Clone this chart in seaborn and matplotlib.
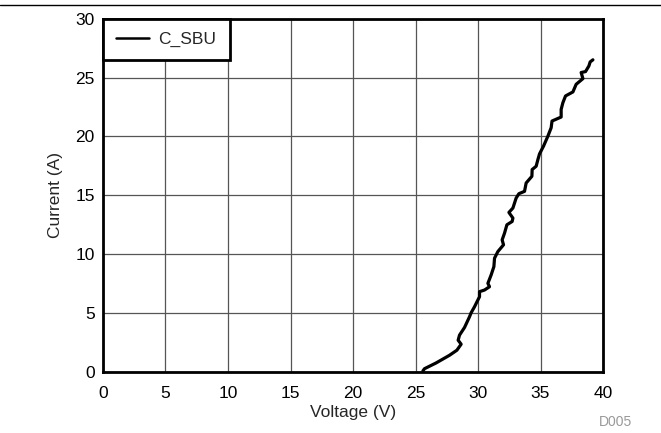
import pandas as pd
import matplotlib
matplotlib.use('Agg')
import matplotlib.pyplot as plt
import seaborn as sns

# curve (V, A)
voltage = [25.59, 25.72, 26.65, 27.72, 28.31, 28.65, 28.41, 28.52, 28.92, 29.32,
           29.45, 29.72, 29.85, 30.12, 30.12, 30.52, 30.92, 30.79, 31.05, 31.27,
           31.32, 31.59, 32.04, 31.93, 32.12, 32.31, 32.73, 32.79, 32.47, 32.79,
           33.05, 33.27, 33.72, 33.85, 34.31, 34.33, 34.65, 34.79, 34.92, 35.24,
           35.59, 35.85, 35.92, 36.65, 36.65, 36.79, 37.00, 37.59, 37.85, 38.39,
           38.25, 38.60, 38.87, 38.97, 39.19]
current = [0.09, 0.28, 0.77, 1.42, 1.85, 2.36, 2.70, 3.13, 3.78, 4.69,
           5.03, 5.54, 5.82, 6.39, 6.82, 6.96, 7.24, 7.53, 8.24, 8.95,
           9.66, 10.23, 10.80, 11.22, 11.79, 12.50, 12.78, 13.07, 13.55, 13.92,
           14.77, 15.14, 15.34, 16.05, 16.62, 17.19, 17.47, 18.04, 18.52, 19.18,
           20.03, 20.74, 21.31, 21.65, 22.30, 22.87, 23.44, 23.78, 24.43, 24.91,
           25.43, 25.51, 25.99, 26.33, 26.51]
x_ticks = [0, 5, 10, 15, 20, 25, 30, 35, 40]
y_ticks = [0, 5, 10, 15, 20, 25, 30]

df = pd.DataFrame({'Voltage': voltage, 'Current': current, 'series': 'C_SBU'})

sns.set_style('white')
plt.rcParams['font.family'] = ['Liberation Sans', 'DejaVu Sans']

fig = plt.figure(figsize=(6.61, 4.33), dpi=100)
ax = fig.add_axes([0.1558, 0.1409, 0.7565, 0.8159])

sns.lineplot(data=df, x='Voltage', y='Current', hue='series', palette=['black'],
             sort=False, estimator=None, linewidth=2.3, ax=ax)

ax.set_xlim(0, 40)
ax.set_ylim(0, 30)
ax.set_xticks(x_ticks)
ax.set_yticks(y_ticks)
ax.grid(True, color='#555555', linewidth=0.9)
ax.tick_params(length=0, labelsize=12.5, colors='black', pad=6)
ax.tick_params(axis='x', pad=10)
for s in ax.spines.values():
    s.set_visible(True)
    s.set_color('black')
    s.set_linewidth(2)
ax.set_xlabel('Voltage (V)', fontsize=12.5, labelpad=3)
ax.set_ylabel('Current (A)', fontsize=12.5, labelpad=9)

leg = ax.legend(loc='upper left', borderaxespad=0, fontsize=12.5, fancybox=False,
                framealpha=1, handlelength=1.9, borderpad=0.75, handletextpad=0.55)
leg.get_frame().set_edgecolor('black')
leg.get_frame().set_linewidth(2)
leg.set_title(None)
for h in leg.get_lines():
    h.set_linewidth(1.8)

fig.add_artist(plt.Line2D([0, 1], [1 - 5 / 433, 1 - 5 / 433], color='black', linewidth=1))
fig.text(616 / 661, 1 - 422 / 433, 'D005', fontsize=10, color='#999999', ha='center', va='center')

fig.savefig('out.png', dpi=100)
